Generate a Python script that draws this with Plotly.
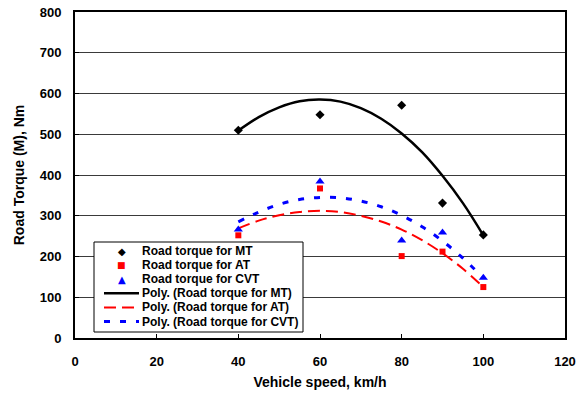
import plotly.graph_objects as go

# ---- data ----
speed = [40, 60, 80, 90, 100]
torque_mt = [510, 548, 571, 331, 253]
torque_at = [252, 367, 201, 212, 125]
torque_cvt = [266, 384, 239, 259, 148]

trend_speed = [40, 45, 50, 55, 60, 65, 70, 75, 80, 85, 90, 95, 100]
trend_mt = [509, 542, 566, 581, 585, 580, 564, 538, 502, 456, 398, 331, 252]
trend_at = [269, 288, 301, 309, 312, 309, 300, 286, 266, 240, 208, 170, 125]
trend_cvt = [285, 309, 328, 340, 345, 344, 336, 322, 301, 273, 238, 196, 147]

x_ticks = [0, 20, 40, 60, 80, 100, 120]
y_ticks = [0, 100, 200, 300, 400, 500, 600, 700, 800]

legend_labels = [
    "Road torque for MT",
    "Road torque for AT",
    "Road torque for CVT",
    "Poly. (Road torque for MT)",
    "Poly. (Road torque for AT)",
    "Poly. (Road torque for CVT)",
]

FONT = "Arial, Liberation Sans, sans-serif"
W, H = 586, 394
ML, MR, MT_, MB = 75, 21, 12, 56

fig = go.Figure()

fig.add_trace(go.Scatter(x=trend_speed, y=trend_mt, mode="lines", line_shape="spline",
                         line=dict(color="black", width=2.5), name=legend_labels[3]))
fig.add_trace(go.Scatter(x=trend_speed, y=trend_at, mode="lines", line_shape="spline",
                         line=dict(color="#ff0000", width=2, dash="12px,6px"), name=legend_labels[4]))
fig.add_trace(go.Scatter(x=trend_speed, y=trend_cvt, mode="lines", line_shape="spline",
                         line=dict(color="#0000ff", width=3, dash="6px,10px"), name=legend_labels[5]))

fig.add_trace(go.Scatter(x=speed, y=torque_mt, mode="markers",
                         marker=dict(symbol="diamond", size=7, color="black"), name=legend_labels[0]))
fig.add_trace(go.Scatter(x=speed, y=torque_at, mode="markers",
                         marker=dict(symbol="square", size=6, color="#ff0000"), name=legend_labels[1]))
fig.add_trace(go.Scatter(x=speed, y=torque_cvt, mode="markers",
                         marker=dict(symbol="triangle-up", size=8, color="#0000ff"), name=legend_labels[2]))

# ---- manual legend (compact rows like the original) ----
pw = W - ML - MR
ph = H - MT_ - MB


def px(xp):
    return (xp - ML) / pw


def py(yp):
    return (H - MB - yp) / ph


shapes = [dict(type="rect", xref="paper", yref="paper",
               x0=px(94), x1=px(303), y0=py(332), y1=py(242),
               line=dict(color="black", width=1), fillcolor="white", layer="above")]
annotations = []
row_y = [251 + 14.1 * i for i in range(6)]
symbols = [("◆", "black", 10), ("■", "#ff0000", 9), ("▲", "#0000ff", 10)]
for i, (sym, col, sz) in enumerate(symbols):
    annotations.append(dict(xref="paper", yref="paper", x=px(121.5), y=py(row_y[i]),
                            text=sym, showarrow=False, xanchor="center", yanchor="middle",
                            font=dict(family="DejaVu Sans", size=sz, color=col)))
line_styles = [dict(color="black", width=2.5), dict(color="#ff0000", width=2, dash="12px,6px"),
               dict(color="#0000ff", width=3, dash="6px,10px")]
for j, ls in enumerate(line_styles):
    yy = py(row_y[3 + j])
    shapes.append(dict(type="line", xref="paper", yref="paper", x0=px(104), x1=px(139),
                       y0=yy, y1=yy, line=ls, layer="above"))
for i, lab in enumerate(legend_labels):
    annotations.append(dict(xref="paper", yref="paper", x=px(140), y=py(row_y[i]),
                            text="<b>%s</b>" % lab, showarrow=False, xanchor="left", yanchor="middle",
                            font=dict(family=FONT, size=12, color="black")))

fig.update_layout(
    width=W, height=H,
    margin=dict(l=ML, r=MR, t=MT_, b=MB, autoexpand=False),
    paper_bgcolor="white", plot_bgcolor="white",
    showlegend=False,
    font=dict(family=FONT, size=13, color="black"),
    shapes=shapes, annotations=annotations,
    xaxis=dict(range=[0, 120], tickvals=x_ticks, ticktext=["<b>%d</b>" % v for v in x_ticks],
               showgrid=False, zeroline=False, showline=True, linecolor="black", linewidth=2,
               mirror=True, ticks="inside", ticklen=4, tickcolor="black", ticklabelstandoff=10,
               title=dict(text="<b>Vehicle speed, km/h</b>", font=dict(size=14), standoff=10),
               automargin=False, fixedrange=True),
    yaxis=dict(range=[0, 800], tickvals=y_ticks, ticktext=["<b>%d</b>" % v for v in y_ticks],
               showgrid=True, gridcolor="#3a3a3a", gridwidth=1, zeroline=False,
               showline=True, linecolor="black", linewidth=2, mirror=True,
               ticks="inside", ticklen=4, tickcolor="black", ticklabelstandoff=9,
               title=dict(text="<b>Road Torque (M), Nm</b>", font=dict(size=14), standoff=12),
               automargin=False, fixedrange=True),
)

fig.write_html("out.html", config={"displayModeBar": False},
               post_script="document.body.style.margin='0';document.body.style.padding='0';")
